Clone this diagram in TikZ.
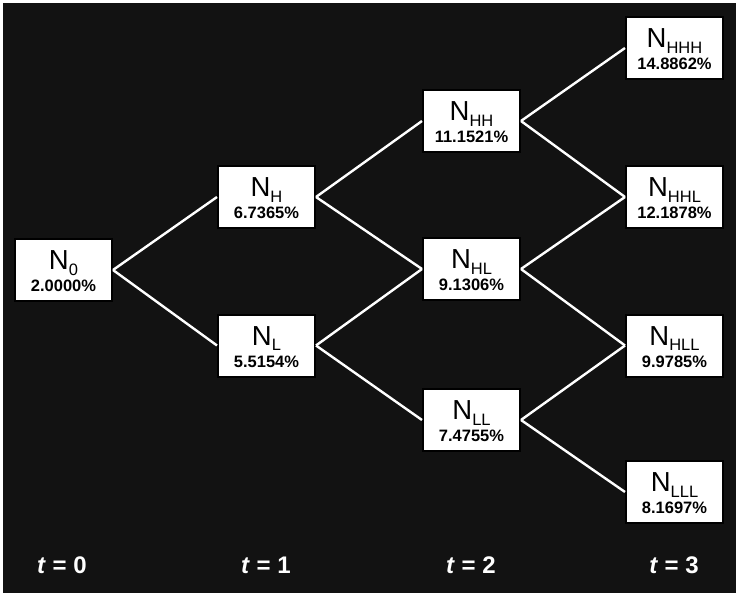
\documentclass[tikz,border=0pt]{standalone}
\usepackage{fontspec}
\setmainfont{Liberation Sans}
\definecolor{bgdark}{HTML}{121212}
\newcommand\nlab[2]{\rule{0pt}{22pt}{\fontsize{27.5}{27.5}\selectfont N}\raisebox{-5.5pt}{\fontsize{16.5}{16.5}\selectfont #1}\\{\bfseries #2}}
\newcommand\tlab[1]{{\bfseries\itshape t} \textbf{= #1}}
\begin{document}
\begin{tikzpicture}[x=1pt,y=-1pt,
  nbox/.style={draw=black,line width=2pt,fill=white,minimum width=97pt,minimum height=62pt,inner sep=0pt,align=center,font=\fontsize{16.5}{22}\selectfont},
  edge/.style={draw=white,line width=2.4pt},
  tl/.style={text=white,anchor=base,font=\fontsize{24}{24}\selectfont}]
\useasboundingbox (0,0) rectangle (739,596);
\fill[white] (0,0) rectangle (739,596);
\fill[bgdark] (3,3) rectangle (736,593);
\node[nbox] (n0) at (63.5,270) {\nlab{0}{2.0000\%}};
\node[nbox] (nh) at (266.5,197) {\nlab{H}{6.7365\%}};
\node[nbox] (nl) at (266.5,345.5) {\nlab{L}{5.5154\%}};
\node[nbox] (nhh) at (471.5,121) {\nlab{HH}{11.1521\%}};
\node[nbox] (nhl) at (471.5,269) {\nlab{HL}{9.1306\%}};
\node[nbox] (nll) at (471.5,420) {\nlab{LL}{7.4755\%}};
\node[nbox] (nhhh) at (674.5,48) {\nlab{HHH}{14.8862\%}};
\node[nbox] (nhhl) at (674.5,197) {\nlab{HHL}{12.1878\%}};
\node[nbox] (nhll) at (674.5,345.5) {\nlab{HLL}{9.9785\%}};
\node[nbox] (nlll) at (674.5,492) {\nlab{LLL}{8.1697\%}};
\draw[edge] (n0.east) -- (nh.west);
\draw[edge] (n0.east) -- (nl.west);
\draw[edge] (nh.east) -- (nhh.west);
\draw[edge] (nh.east) -- (nhl.west);
\draw[edge] (nl.east) -- (nhl.west);
\draw[edge] (nl.east) -- (nll.west);
\draw[edge] (nhh.east) -- (nhhh.west);
\draw[edge] (nhh.east) -- (nhhl.west);
\draw[edge] (nhl.east) -- (nhhl.west);
\draw[edge] (nhl.east) -- (nhll.west);
\draw[edge] (nll.east) -- (nhll.west);
\draw[edge] (nll.east) -- (nlll.west);
\node[tl] (t0) at (62,573) {\tlab{0}};
\node[tl] (t1) at (266,573) {\tlab{1}};
\node[tl] (t2) at (471,573) {\tlab{2}};
\node[tl] (t3) at (674,573) {\tlab{3}};
\end{tikzpicture}
\end{document}
